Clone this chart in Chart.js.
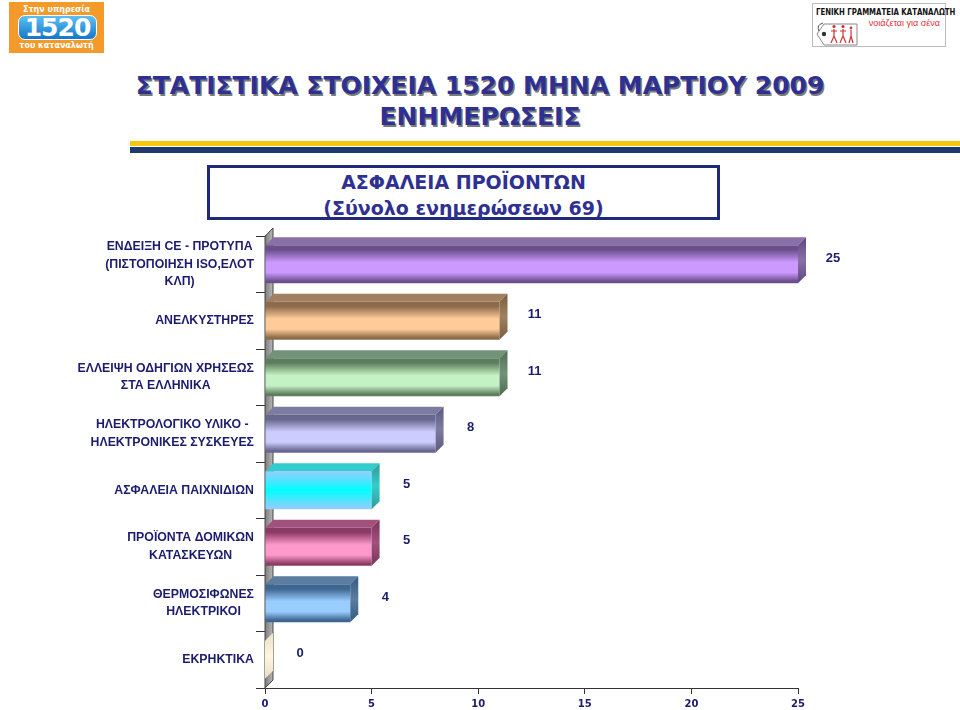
<!DOCTYPE html>
<html><head><meta charset="utf-8">
<script src="https://cdn.jsdelivr.net/npm/chart.js@4/dist/chart.umd.min.js"></script>
<style>
html,body{margin:0;padding:0;background:#fff;}
#wrap{position:relative;width:960px;height:710px;overflow:hidden;background:#fff;}
#c{position:absolute;left:0;top:0;}
.abs{position:absolute;}
#logo1{left:9px;top:2px;width:95px;height:51px;background:#f39a2b;}
#logo1 .t{position:absolute;width:100%;text-align:center;color:#fff;font:bold 8px "DejaVu Sans",sans-serif;}
#logo1 .pill{position:absolute;left:9px;top:13px;width:77px;height:23px;border-radius:7px;background:linear-gradient(#5cc0f5,#1577c7);border:1px solid #fff;color:#fff;font:bold 25px/23px "DejaVu Sans",sans-serif;text-align:center;letter-spacing:-1px;}
#logo2{left:812px;top:3px;width:134px;height:44px;border:1px solid #bbb;box-sizing:border-box;background:#fff;}
#logo2 .h{position:absolute;left:3px;top:3px;font:bold 9px "Liberation Sans Narrow","DejaVu Sans Condensed",sans-serif;color:#111;white-space:nowrap;transform:scaleX(0.86);transform-origin:left top;}
#logo2 .r{position:absolute;right:5px;top:14px;font:9px "Liberation Sans",sans-serif;color:#e0303a;white-space:nowrap;}
#title{left:0;top:70px;width:960px;text-align:center;font:bold 25px/31px "DejaVu Sans",sans-serif;color:#2e3192;text-shadow:1.5px 1.5px 0 #7a7a7a;}
#sub{left:207px;top:165px;width:513px;height:55px;border:3px solid #1f2a7a;box-sizing:border-box;text-align:center;font:bold 19px/26px "DejaVu Sans",sans-serif;color:#2e3192;padding-top:1px;}
</style></head><body>
<div id="wrap">
  <div id="logo1" class="abs">
    <div class="t" style="top:3px;">Στην υπηρεσία</div>
    <div class="pill">1520</div>
    <div class="t" style="top:39px;">του καταναλωτή</div>
  </div>
  <div id="logo2" class="abs">
    <div class="h">ΓΕΝΙΚΗ ΓΡΑΜΜΑΤΕΙΑ ΚΑΤΑΝΑΛΩΤΗ</div>
    <div class="r">νοιάζεται για σένα</div>
    <svg class="abs" style="left:2px;top:15px;" width="46" height="28" viewBox="0 0 46 28">
      <path d="M9 5 L42 5 L42 26 L9 26 L2 15 Z" fill="none" stroke="#888" stroke-width="1"/>
      <circle cx="9" cy="15" r="2.2" fill="#333"/>
      <path d="M4 12 q-3 -6 4 -8" fill="none" stroke="#555" stroke-width="1"/>
      <path d="M19 10 l0 7 l-3 7 M19 17 l3 7 M16 12 l6 0" stroke="#c33" stroke-width="1.2" fill="none"/>
      <circle cx="19" cy="7.5" r="1.6" fill="#c33"/>
      <path d="M28 10 l0 7 l-3 7 M28 17 l3 7 M25 12 l6 0" stroke="#c33" stroke-width="1.2" fill="none"/>
      <circle cx="28" cy="7.5" r="1.6" fill="#c33"/>
      <path d="M36 11 l0 6 l-2 7 M36 17 l2 7" stroke="#c33" stroke-width="1.2" fill="none"/>
      <circle cx="36" cy="9" r="1.4" fill="#c33"/>
    </svg>
  </div>
  <div id="title" class="abs">ΣΤΑΤΙΣΤΙΚΑ ΣΤΟΙΧΕΙΑ 1520 ΜΗΝΑ ΜΑΡΤΙΟΥ 2009<br>ΕΝΗΜΕΡΩΣΕΙΣ</div>
  <div class="abs" style="left:130px;top:141px;width:830px;height:5px;background:#f9c80e;"></div>
  <div class="abs" style="left:130px;top:147px;width:830px;height:6px;background:#1c3a6b;"></div>
  <div id="sub" class="abs">ΑΣΦΑΛΕΙΑ ΠΡΟΪΟΝΤΩΝ<br>(Σύνολο ενημερώσεων 69)</div>
  <canvas id="c" width="960" height="710" style="width:960px;height:710px;"></canvas>
</div>
<script>
// ---- data ----
const categories = [
  ["ΕΝΔΕΙΞΗ CE - ΠΡΟΤΥΠΑ", "(ΠΙΣΤΟΠΟΙΗΣΗ ISO,ΕΛΟΤ", "ΚΛΠ)"],
  ["ΑΝΕΛΚΥΣΤΗΡΕΣ"],
  ["ΕΛΛΕΙΨΗ ΟΔΗΓΙΩΝ ΧΡΗΣΕΩΣ", "ΣΤΑ ΕΛΛΗΝΙΚΑ"],
  ["ΗΛΕΚΤΡΟΛΟΓΙΚΟ ΥΛΙΚΟ -", "ΗΛΕΚΤΡΟΝΙΚΕΣ ΣΥΣΚΕΥΕΣ"],
  ["ΑΣΦΑΛΕΙΑ ΠΑΙΧΝΙΔΙΩΝ"],
  ["ΠΡΟΪΟΝΤΑ ΔΟΜΙΚΩΝ", "ΚΑΤΑΣΚΕΥΩΝ"],
  ["ΘΕΡΜΟΣΙΦΩΝΕΣ", "ΗΛΕΚΤΡΙΚΟΙ"],
  ["ΕΚΡΗΚΤΙΚΑ"]
];
const values = [25, 11, 11, 8, 5, 5, 4, 0];
const xMin = 0, xMax = 25, xStep = 5;

// ---- styles ----
const lightCols = ['#cc99ff','#ffcc99','#c4f2c4','#ccccff','#00ffff','#ff99cc','#99ccff','#fff6dc'];
const edgeCols  = ['#6b4f8c','#8c6a4a','#5d7d5d','#66668e','#99ccff','#8c3a66','#3d6690','#c9c0a8'];
const topCols   = ['#8a6fa8','#a0805e','#72927a','#7c7ca2','#33cccc','#a2517c','#5a7da0','#d8d0b8'];
const sideCols  = ['#5e4680','#7a5c40','#4f6c4f','#5a5a7e','#339999','#7a3258','#345a80','#e8dfc4'];
const textCol = '#1c1c6e';
const DX = 8, DY = 8;

function frontFill(c){
  if (c.type !== 'data') return 'transparent';
  const i = c.dataIndex, chart = c.chart, ys = chart.scales && chart.scales.y;
  if (!ys || !chart.chartArea) return lightCols[i];
  const yc = ys.getPixelForValue(i);
  const h = ys.height / categories.length * 0.67;
  const g = chart.ctx.createLinearGradient(0, yc - h/2, 0, yc + h/2);
  const L = lightCols[i], E = edgeCols[i];
  if (i === 4) {
    g.addColorStop(0, '#99ccff'); g.addColorStop(0.5, '#00ffff'); g.addColorStop(1, '#99ccff');
  } else {
    g.addColorStop(0, E); g.addColorStop(0.12, E);
    g.addColorStop(0.45, L); g.addColorStop(0.72, L);
    g.addColorStop(0.95, E); g.addColorStop(1, E);
  }
  return g;
}

const wallPlugin = {
  id: 'wall',
  beforeDatasetsDraw(chart){
    const {ctx, chartArea: a} = chart;
    ctx.save();
    const g = ctx.createLinearGradient(a.left, 0, a.left + DX, 0);
    g.addColorStop(0, '#7c7c7c'); g.addColorStop(1, '#b8b8b8');
    ctx.fillStyle = g;
    ctx.beginPath();
    ctx.moveTo(a.left, a.bottom); ctx.lineTo(a.left + DX, a.bottom - DY);
    ctx.lineTo(a.left + DX, a.top - DY); ctx.lineTo(a.left, a.top); ctx.closePath();
    ctx.fill();
    ctx.strokeStyle = '#444'; ctx.lineWidth = 1; ctx.stroke();
    ctx.restore();
  }
};

const bar3dPlugin = {
  id: 'bar3d',
  afterDatasetsDraw(chart){
    const ctx = chart.ctx;
    const meta = chart.getDatasetMeta(0);
    ctx.save();
    meta.data.forEach((el, i) => {
      const p = el.getProps(['x','y','base','height'], true);
      const top = p.y - p.height/2, bot = p.y + p.height/2;
      const x0 = Math.min(p.base, p.x), x1 = Math.max(p.base, p.x);
      if (x1 > x0) {
        ctx.fillStyle = topCols[i];
        ctx.beginPath();
        ctx.moveTo(x0, top); ctx.lineTo(x0 + DX, top - DY);
        ctx.lineTo(x1 + DX, top - DY); ctx.lineTo(x1, top); ctx.closePath();
        ctx.fill();
      }
      const sg = ctx.createLinearGradient(0, top - DY, 0, bot);
      sg.addColorStop(0, sideCols[i]); sg.addColorStop(0.5, i === 7 ? '#fff6dc' : topCols[i]); sg.addColorStop(1, sideCols[i]);
      ctx.fillStyle = sg;
      ctx.beginPath();
      ctx.moveTo(x1, top); ctx.lineTo(x1 + DX, top - DY);
      ctx.lineTo(x1 + DX, bot - DY); ctx.lineTo(x1, bot); ctx.closePath();
      ctx.fill();
      ctx.fillStyle = textCol;
      ctx.font = 'bold 13px "Liberation Sans", Arial, sans-serif';
      ctx.textAlign = 'center'; ctx.textBaseline = 'middle';
      ctx.fillText(String(values[i]), p.x + 35, p.y - 6);
    });
    ctx.restore();
  }
};

const catLabelPlugin = {
  id: 'catLabels',
  afterDraw(chart){
    const ctx = chart.ctx, ys = chart.scales.y, a = chart.chartArea;
    ctx.save();
    ctx.font = 'bold 12.3px "Liberation Sans", Arial, sans-serif';
    ctx.fillStyle = textCol;
    ctx.textAlign = 'center'; ctx.textBaseline = 'middle';
    const lh = 17.5;
    categories.forEach((lines, i) => {
      const yc = ys.getPixelForValue(i);
      const w = Math.max(...lines.map(t => ctx.measureText(t).width));
      const cx = a.left - 11 - w/2;
      lines.forEach((t, k) => ctx.fillText(t, cx, yc + (k - (lines.length - 1)/2) * lh));
    });
    ctx.restore();
  }
};

new Chart(document.getElementById('c'), {
  type: 'bar',
  data: {
    labels: categories,
    datasets: [{
      data: values,
      backgroundColor: frontFill,
      borderWidth: 0,
      categoryPercentage: 1,
      barPercentage: 0.67
    }]
  },
  options: {
    indexAxis: 'y',
    responsive: false,
    animation: false,
    devicePixelRatio: 1,
    layout: { padding: { top: 236, right: 162, bottom: 0, left: 0 } },
    plugins: { legend: { display: false }, tooltip: { enabled: false } },
    scales: {
      x: {
        type: 'linear', min: xMin, max: xMax, position: 'bottom',
        ticks: { stepSize: xStep, color: textCol, padding: 4,
                 font: { family: '"DejaVu Sans", sans-serif', weight: 'bold', size: 10 } },
        grid: { drawOnChartArea: false, drawTicks: true, tickLength: 6, color: '#333' },
        border: { display: true, color: '#333', width: 1 },
        afterFit(s){ s.height = 22; }
      },
      y: {
        type: 'category',
        ticks: { display: false },
        grid: { drawOnChartArea: false, drawTicks: true, tickLength: 9, color: '#333', offset: true },
        border: { display: true, color: '#444', width: 1 },
        afterFit(s){ s.width = 265; }
      }
    }
  },
  plugins: [wallPlugin, bar3dPlugin, catLabelPlugin]
});
</script>
</body></html>
